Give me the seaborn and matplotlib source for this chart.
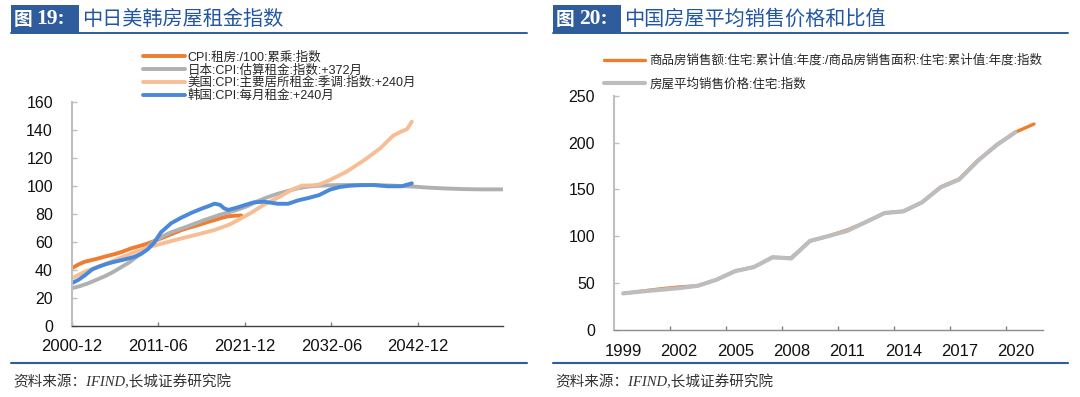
import matplotlib
matplotlib.use("Agg")
import matplotlib.pyplot as plt
import numpy as np
import pandas as pd
import seaborn as sns
from matplotlib.patches import Rectangle
from matplotlib.lines import Line2D

# ---------------- data: left chart (months since 2000-12) ----------------
china_months = [0, 10, 19, 30, 39, 50, 63, 75, 87, 100, 111, 124, 136, 148, 160,
                172, 184, 196, 208, 218, 228, 238, 247]
china_values = [41.2, 44.0, 45.9, 47.2, 48.3, 49.8, 51.4, 53.3, 55.5, 57.3, 59.0,
                61.4, 63.8, 66.2, 68.6, 70.4, 72.1, 74.0, 75.7, 77.2, 78.4, 78.8, 78.9]

japan_months = [0, 12, 24, 36, 48, 60, 72, 84, 96, 108, 120, 132, 144, 168, 192,
                216, 240, 255, 270, 285, 300, 315, 330, 345, 360, 380, 400, 430,
                460, 497, 520, 546, 570, 594, 627]
japan_values = [26.9, 28.5, 30.5, 33.0, 35.5, 38.5, 42.0, 45.5, 50.0, 55.5, 60.5,
                64.0, 66.8, 71.0, 75.5, 79.5, 82.8, 85.5, 89.0, 92.0, 94.5, 96.5,
                98.5, 99.6, 100.2, 100.6, 100.7, 100.7, 100.4, 99.6, 98.8, 98.2,
                97.8, 97.6, 97.6]

us_months = [0, 19, 39, 63, 87, 111, 136, 160, 184, 208, 230, 245, 260, 279, 303,
             320, 335, 350, 360, 376, 400, 425, 449, 468, 480, 488, 495]
us_values = [34.0, 38.8, 42.4, 47.1, 51.9, 56.2, 59.5, 62.6, 65.5, 68.6, 72.5,
             76.5, 80.5, 86.4, 92.4, 97.3, 100.2, 100.4, 101.0, 104.3, 110.2,
             118.2, 126.9, 136.0, 139.0, 140.6, 146.0]

korea_months = [0, 10, 20, 30, 40, 50, 60, 75, 90, 100, 110, 120, 130, 145, 160,
                175, 190, 200, 208, 216, 222, 228, 240, 252, 265, 280, 300, 315,
                330, 345, 360, 376, 390, 405, 420, 440, 460, 480, 495]
korea_values = [30.5, 33.0, 36.5, 40.5, 42.5, 44.2, 45.6, 47.3, 49.2, 51.2, 54.5,
                59.5, 67.0, 73.5, 77.5, 81.0, 84.0, 85.8, 87.4, 86.5, 84.0, 82.9,
                84.5, 86.4, 88.3, 88.8, 87.3, 87.3, 89.8, 91.5, 93.5, 97.4, 99.3,
                100.2, 100.6, 100.7, 99.8, 99.8, 101.9]

left_names = ["CPI:租房:/100:累乘:指数", "日本:CPI:估算租金:指数:+372月",
              "美国:CPI:主要居所租金:季调:指数:+240月", "韩国:CPI:每月租金:+240月"]
left_tick_pos = [0, 126, 252, 378, 504]
left_tick_labels = ["2000-12", "2011-06", "2021-12", "2032-06", "2042-12"]

# ---------------- data: right chart ----------------
years = list(range(1999, 2022))
ratio_values = [38.5, 41.0, 43.5, 45.5, 46.8, 53.3, 62.5, 66.8, 77.0, 76.8, 94.5,
                100.0, 106.5, 115.0, 124.6, 126.4, 136.0, 152.5, 161.0, 181.0,
                197.0, 211.0, 219.8]
price_years = list(range(1999, 2021))
price_values = [38.7, 40.7, 42.5, 44.3, 46.8, 53.3, 62.5, 66.8, 77.4, 76.0, 94.8,
                100.0, 105.5, 115.0, 124.6, 126.4, 136.0, 152.0, 160.5, 180.5,
                197.5, 211.0]
right_names = ["商品房销售额:住宅:累计值:年度:/商品房销售面积:住宅:累计值:年度:指数",
               "房屋平均销售价格:住宅:指数"]

# ---------------- style ----------------
sns.set_theme(style="white")
plt.rcParams["font.family"] = ["Liberation Sans", "Noto Sans CJK SC"]
plt.rcParams["axes.unicode_minus"] = False

W, H = 1080, 397
fig = plt.figure(figsize=(10.8, 3.97), dpi=100)
fig.patch.set_facecolor("white")


def fx(px):
    return px / W


def fy(py):
    return 1 - py / H


BLUE_BAR = "#2E5C9C"
TITLE_BLUE = "#2256A3"

axL = fig.add_axes([fx(71.7), fy(326), (502.5 - 71.7) / W, (326 - 102) / H])
axR = fig.add_axes([fx(613.9), fy(329.5), (1043.3 - 613.9) / W, (329.5 - 95.8) / H])

# ---------------- left chart ----------------
left_series = [
    (china_months, china_values, "#ED7D31"),
    (japan_months, japan_values, "#B0B0B0"),
    (us_months, us_values, "#F7BE96"),
    (korea_months, korea_values, "#4A88DA"),
]
for (m, v, c), name in zip(left_series, left_names):
    df = pd.DataFrame({"month": m, "value": v})
    sns.lineplot(data=df, x="month", y="value", ax=axL, color=c, lw=2.8,
                 label=name, errorbar=None, solid_capstyle="round",
                 solid_joinstyle="round")

axL.set_xlim(0, 627)
axL.set_ylim(0, 160)
axL.set_yticks(np.arange(0, 161, 20))
axL.set_xticks(left_tick_pos)
axL.set_xticklabels(left_tick_labels)
axL.set_xlabel("")
axL.set_ylabel("")

axL.legend(loc="upper left", bbox_to_anchor=(fx(143.3), fy(51.5)),
           bbox_transform=fig.transFigure, frameon=False, fontsize=9,
           handlelength=3.3, handletextpad=0.25, labelspacing=0.05,
           borderpad=0, borderaxespad=0)

# ---------------- right chart ----------------
df_r = pd.DataFrame({"year": years, "value": ratio_values})
sns.lineplot(data=df_r, x="year", y="value", ax=axR, color="#ED7D31", lw=2.4,
             label=right_names[0], errorbar=None, solid_capstyle="round")
df_p = pd.DataFrame({"year": price_years, "value": price_values})
sns.lineplot(data=df_p, x="year", y="value", ax=axR, color="#BDBDBD", lw=3.0,
             label=right_names[1], errorbar=None, solid_capstyle="round",
             solid_joinstyle="round")

axR.set_xlim(1998.5, 2021.5)
axR.set_ylim(0, 250)
axR.set_yticks(np.arange(0, 251, 50))
axR.set_xticks(list(range(1999, 2021, 3)))
axR.set_xticklabels([str(y) for y in range(1999, 2021, 3)])
axR.set_xticks([y + 0.5 for y in range(2001, 2020, 3)], minor=True)
axR.set_xlabel("")
axR.set_ylabel("")

axR.legend(loc="upper left", bbox_to_anchor=(fx(603.7), fy(54.5)),
           bbox_transform=fig.transFigure, frameon=False, fontsize=9,
           handlelength=3.3, handletextpad=0.35, labelspacing=0.9,
           borderpad=0, borderaxespad=0)

# ---------------- axis styling ----------------
for ax, bottom_color in ((axL, "#404040"), (axR, "#8C8C8C")):
    ax.set_facecolor("white")
    ax.grid(False)
    for s in ("top", "right"):
        ax.spines[s].set_visible(False)
    ax.spines["left"].set_color("#BFBFBF")
    ax.spines["left"].set_linewidth(1.5)
    ax.spines["bottom"].set_color(bottom_color)
    ax.spines["bottom"].set_linewidth(1.0)
    ax.tick_params(axis="y", which="major", direction="in", length=3.4, width=1.0,
                   color="#BFBFBF", labelsize=11.5, pad=13.5, labelcolor="#111111",
                   left=True)
    ax.tick_params(axis="x", which="both", labelsize=12, labelcolor="#111111",
                   bottom=True)

axL.tick_params(axis="x", which="major", direction="in", length=3.0, width=1.0,
                color="#808080", pad=9.5)
axR.tick_params(axis="x", which="major", length=0, pad=10.5)
axR.tick_params(axis="x", which="minor", direction="in", length=3.0, width=1.0,
                color="#808080")

# ---------------- titles, rules and source notes ----------------
panels = [
    (10.7, 527.0, "19", "中日美韩房屋租金指数"),
    (552.7, 1068.0, "20", "中国房屋平均销售价格和比值"),
]
for x0, x1, num, title in panels:
    fig.patches.append(Rectangle((fx(x0), fy(33.3)), 68.0 / W, 28.3 / H,
                                 transform=fig.transFigure, facecolor=BLUE_BAR,
                                 edgecolor="none"))
    fig.add_artist(Line2D([fx(x0), fx(x1)], [fy(33.2), fy(33.2)],
                          transform=fig.transFigure, color=BLUE_BAR, lw=1.4))
    fig.add_artist(Line2D([fx(x0), fx(x1)], [fy(362.5), fy(362.5)],
                          transform=fig.transFigure, color=BLUE_BAR, lw=1.5))
    fig.text(fx(x0 + 2.5), fy(19.5), "图", color="white", fontsize=13.5,
             fontweight="bold", va="center", ha="left",
             family=["Noto Sans CJK SC"])
    fig.text(fx(x0 + 26), fy(19.0), "19:" if num == "19" else "20:",
             color="white", fontsize=15.5, fontweight="bold", va="center",
             ha="left", family=["Liberation Serif", "Noto Sans CJK SC"])
    fig.text(fx(x0 + 71), fy(19.7), title, color=TITLE_BLUE, fontsize=14.5,
             va="center", ha="left", family=["Noto Sans CJK SC"])
    fig.text(fx(x0 + 2.3), fy(381.7), "资料来源：IFIND,长城证券研究院",
             color="#333333", fontsize=10.5, fontstyle="italic", va="center",
             ha="left", family=["Liberation Serif", "Noto Sans CJK SC"])

fig.savefig("out.png", dpi=100, facecolor="white")
